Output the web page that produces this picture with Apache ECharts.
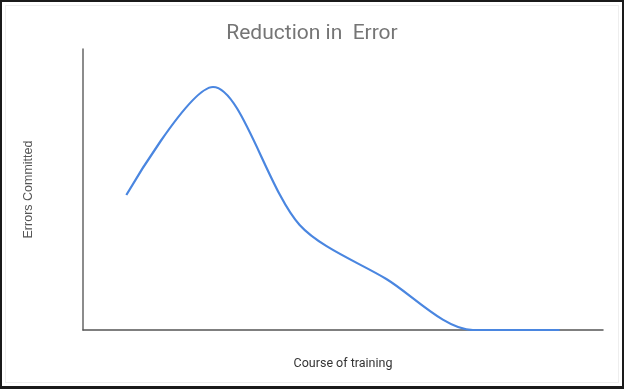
<!DOCTYPE html>
<html><head><meta charset="utf-8">
<script src="https://cdn.jsdelivr.net/npm/echarts@6/dist/echarts.min.js"></script>
<style>
html,body{margin:0;padding:0;background:#fff;}
#c{position:absolute;left:0;top:0;width:624px;height:389px;}
#f{position:absolute;left:0;top:0;width:624px;height:389px;box-sizing:border-box;border-style:solid;border-color:#1a1a1a;border-width:2px 2px 3px 2px;pointer-events:none;}
#g{position:absolute;left:5px;top:5px;width:614px;height:378px;box-sizing:border-box;border:1px solid #eeeeee;pointer-events:none;}
</style></head>
<body>
<div id="c"></div><div id="g"></div><div id="f"></div>
<script>
var categories = ['1','2','3','4','5','6'];
var errors = [135, 243, 105, 51, 0, 0];
var titleText = 'Reduction in  Error';
var xName = 'Course of training';
var yName = 'Errors Committed';

var chart = echarts.init(document.getElementById('c'));
chart.setOption({
  animation:false,
  title:{text:titleText,left:'center',top:18,textStyle:{fontFamily:'Roboto',fontSize:21,fontWeight:'normal',color:'#757575'}},
  grid:{left:83,right:21,top:49,bottom:59},
  xAxis:{type:'category',data:categories,boundaryGap:true,name:xName,nameLocation:'middle',nameGap:27,
    nameTextStyle:{fontFamily:'Roboto',fontSize:12.5,color:'#333'},
    axisLine:{lineStyle:{color:'#555',width:1.5}},axisTick:{show:false},axisLabel:{show:false}},
  yAxis:{type:'value',min:0,max:281,name:yName,nameLocation:'middle',nameGap:48,
    nameTextStyle:{fontFamily:'Liberation Sans',fontSize:12.5,color:'#555'},
    axisLine:{show:true,lineStyle:{color:'#666',width:1.5}},axisTick:{show:false},axisLabel:{show:false},splitLine:{show:false}},
  series:[{type:'line',data:errors,smooth:0.3,showSymbol:false,symbol:'none',
    lineStyle:{color:'#4a86e0',width:2.2},z:1}]
});
</script>
</body></html>
